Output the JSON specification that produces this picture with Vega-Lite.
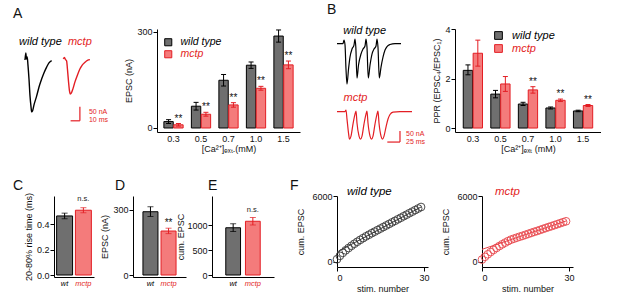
{
"$schema": "https://vega.github.io/schema/vega-lite/v6.json",
"background": "white",
"padding": {"left": 13, "top": 3, "right": 0, "bottom": 0},
"bounds": "flush",
"spacing": 167,
"resolve": {"scale": {"color": "independent", "fill": "independent", "stroke": "independent"}, "legend": {"color": "independent", "fill": "independent", "stroke": "independent"}},
"config": {
  "font": "Liberation Sans",
  "view": {"stroke": null},
  "axis": {"labelFont": "Liberation Sans", "titleFont": "Liberation Sans", "labelFontSize": 9, "titleFontSize": 9, "titleFontWeight": "normal", "domainColor": "#000", "tickColor": "#000", "labelColor": "#111", "titleColor": "#111", "tickSize": 4, "grid": false, "labelPadding": 1, "titlePadding": 3, "labelOverlap": {"expr": "false"}},
  "title": {"fontSize": 14, "fontWeight": "normal", "anchor": "start", "frame": "group", "color": "#111", "font": "Liberation Sans"},
  "legend": {"labelFont": "Liberation Sans"}
},
"vconcat": [
{"hconcat": [
{
 "width": 144, "height": 103,
 "title": {"text": "A", "offset": 8},
 "layer": [
  {"data": {"values": [
   {"trace":"wild type","t":12.9,"I":-3.6},{"trace":"wild type","t":13.8,"I":21},{"trace":"wild type","t":14.5,"I":0},{"trace":"wild type","t":15.3,"I":7},{"trace":"wild type","t":16.1,"I":-21},{"trace":"wild type","t":17.2,"I":-71},{"trace":"wild type","t":18.3,"I":-132},{"trace":"wild type","t":19.4,"I":-171},{"trace":"wild type","t":20.1,"I":-189},{"trace":"wild type","t":21.0,"I":-186},{"trace":"wild type","t":22.6,"I":-164},{"trace":"wild type","t":25.5,"I":-132},{"trace":"wild type","t":28.0,"I":-100},{"trace":"wild type","t":30.9,"I":-71},{"trace":"wild type","t":33.3,"I":-50},{"trace":"wild type","t":36.2,"I":-29},{"trace":"wild type","t":38.7,"I":-14},{"trace":"wild type","t":41.6,"I":-6},
   {"trace":"mctp","t":54.1,"I":0},{"trace":"mctp","t":55.4,"I":5},{"trace":"mctp","t":56.5,"I":-2},{"trace":"mctp","t":57.7,"I":-7},{"trace":"mctp","t":58.6,"I":-36},{"trace":"mctp","t":59.7,"I":-79},{"trace":"mctp","t":60.8,"I":-114},{"trace":"mctp","t":61.6,"I":-125},{"trace":"mctp","t":62.9,"I":-121},{"trace":"mctp","t":64.5,"I":-107},{"trace":"mctp","t":66.7,"I":-82},{"trace":"mctp","t":69.4,"I":-57},{"trace":"mctp","t":72.0,"I":-36},{"trace":"mctp","t":74.7,"I":-21},{"trace":"mctp","t":77.4,"I":-12},{"trace":"mctp","t":80.1,"I":-5},{"trace":"mctp","t":82.8,"I":-2.5}
  ]},
   "mark": {"type": "line", "strokeWidth": 1.4, "interpolate": "monotone"},
   "encoding": {
    "x": {"field": "t", "type": "quantitative", "scale": {"domain": [0, 155], "nice": false, "zero": false}, "axis": null},
    "y": {"field": "I", "type": "quantitative", "scale": {"domain": [-261, 107], "nice": false, "zero": false}, "axis": null},
    "color": {"field": "trace", "type": "nominal", "scale": {"domain": ["wild type", "mctp"], "range": ["#000000", "#e31e24"]}, "legend": null}
   }},
  {"data": {"values": [{"t": 6.5, "I": 50, "trace": "wild type", "label": "wild type"}, {"t": 59.1, "I": 50, "trace": "mctp", "label": "mctp"}]},
   "mark": {"type": "text", "align": "left", "baseline": "alphabetic", "fontSize": 11, "fontStyle": "italic"},
   "encoding": {"x": {"field": "t", "type": "quantitative"}, "y": {"field": "I", "type": "quantitative"}, "text": {"field": "label"}, "color": {"field": "trace", "type": "nominal", "legend": null}}},
  {"data": {"values": [{"t1": 72, "t2": 72, "I1": -221, "I2": -171}, {"t1": 62, "t2": 72, "I1": -221, "I2": -221}]},
   "mark": {"type": "rule", "color": "#e31e24", "strokeWidth": 1.2},
   "encoding": {"x": {"field": "t1", "type": "quantitative"}, "x2": {"field": "t2"}, "y": {"field": "I1", "type": "quantitative"}, "y2": {"field": "I2"}}},
  {"data": {"values": [{"t": 81.7, "I": -198.2, "label": "50 nA"}, {"t": 81.7, "I": -226.8, "label": "10 ms"}]},
   "mark": {"type": "text", "align": "left", "baseline": "alphabetic", "fontSize": 7, "color": "#e31e24"},
   "encoding": {"x": {"field": "t", "type": "quantitative"}, "y": {"field": "I", "type": "quantitative"}, "text": {"field": "label"}}}
 ]
},
{
 "width": 143, "height": 103,
 "data": {"values": [
  {"conc":"0.3","group":"wild type","mean":20,"lo":14,"hi":26,"sig":""},
  {"conc":"0.3","group":"mctp","mean":10,"lo":6,"hi":14,"sig":"**"},
  {"conc":"0.5","group":"wild type","mean":68,"lo":56,"hi":80,"sig":""},
  {"conc":"0.5","group":"mctp","mean":43,"lo":37,"hi":49,"sig":"**"},
  {"conc":"0.7","group":"wild type","mean":149,"lo":131,"hi":167,"sig":""},
  {"conc":"0.7","group":"mctp","mean":72,"lo":65,"hi":79,"sig":"**"},
  {"conc":"1.0","group":"wild type","mean":196,"lo":186,"hi":206,"sig":""},
  {"conc":"1.0","group":"mctp","mean":124,"lo":118,"hi":130,"sig":"**"},
  {"conc":"1.5","group":"wild type","mean":287,"lo":268,"hi":306,"sig":""},
  {"conc":"1.5","group":"mctp","mean":197,"lo":185,"hi":209,"sig":"**"}
 ]},
 "encoding": {
  "x": {"field": "conc", "type": "nominal", "scale": {"paddingInner": 0.3, "paddingOuter": 0.25}, "axis": {"title": "[Ca²⁺]ₑₓₜ.(mM)", "labelAngle": 0, "ticks": false, "labelPadding": 2, "titlePadding": 1}},
  "xOffset": {"field": "group", "type": "nominal", "sort": ["wild type", "mctp"], "scale": {"paddingInner": 0.05}},
  "stroke": {"field": "group", "type": "nominal", "scale": {"domain": ["wild type", "mctp"], "range": ["#000000", "#e31e24"]},
    "legend": {"title": null, "orient": "none", "legendX": 6, "legendY": 8, "padding": 0, "labelFontStyle": "italic", "labelFontSize": 10.5, "symbolType": "square", "symbolSize": 50, "symbolStrokeWidth": 1, "rowPadding": 0, "labelOffset": 7,
     "encode": {"labels": {"update": {"fill": {"signal": "datum.value === 'mctp' ? '#e31e24' : '#000000'"}}}}}}
 },
 "layer": [
  {"mark": {"type": "bar", "strokeWidth": 1},
   "encoding": {
    "y": {"field": "mean", "type": "quantitative", "scale": {"domain": [-12.5, 309], "nice": false}, "axis": {"title": "EPSC (nA)", "values": [0, 100, 200, 300], "labelOverlap": {"expr": "false"}}},
    "fill": {"field": "group", "type": "nominal", "scale": {"domain": ["wild type", "mctp"], "range": ["#6f6f6f", "#f47b7b"]},
      "legend": {"title": null, "orient": "none", "legendX": 6, "legendY": 8, "padding": 0, "labelFontStyle": "italic", "labelFontSize": 10.5, "symbolType": "square", "symbolSize": 50, "symbolStrokeWidth": 1, "rowPadding": 0, "labelOffset": 7,
       "encode": {"labels": {"update": {"fill": {"signal": "datum.value === 'mctp' ? '#e31e24' : '#000000'"}}}}}}
   }},
  {"mark": {"type": "rule", "strokeWidth": 1},
   "encoding": {"y": {"field": "lo", "type": "quantitative"}, "y2": {"field": "hi"}}},
  {"mark": {"type": "point", "shape": "M-1,0L1,0", "filled": false, "size": 25, "strokeWidth": 1, "opacity": 1},
   "encoding": {"y": {"field": "hi", "type": "quantitative"}}},
  {"mark": {"type": "point", "shape": "M-1,0L1,0", "filled": false, "size": 25, "strokeWidth": 1, "opacity": 1},
   "encoding": {"y": {"field": "lo", "type": "quantitative"}}},
  {"mark": {"type": "text", "baseline": "alphabetic", "dy": -2, "fontSize": 10, "fill": "#111"},
   "encoding": {"y": {"field": "hi", "type": "quantitative"}, "text": {"field": "sig"}, "stroke": {"value": "transparent"}}}
 ]
},
{
 "width": 155, "height": 103,
 "title": {"text": "B", "offset": 8, "dx": 27},
 "layer": [
  {"data": {"values": [
   {"trace":"wild type","t":73.0,"I":0},{"trace":"wild type","t":84.8,"I":0},{"trace":"wild type","t":86.8,"I":15.9},{"trace":"wild type","t":88.8,"I":-6.8},{"trace":"wild type","t":90.7,"I":-115.9},{"trace":"wild type","t":92.7,"I":-184.1},{"trace":"wild type","t":95.7,"I":-115.9},{"trace":"wild type","t":98.6,"I":-61.4},{"trace":"wild type","t":102.6,"I":-25},{"trace":"wild type","t":106.5,"I":-6.8},{"trace":"wild type","t":108.5,"I":20.5},{"trace":"wild type","t":110.1,"I":-15.9},{"trace":"wild type","t":112.4,"I":-156.8},{"trace":"wild type","t":115.4,"I":-97.7},{"trace":"wild type","t":120.3,"I":-47.7},{"trace":"wild type","t":124.3,"I":-25},{"trace":"wild type","t":128.2,"I":-11.4},{"trace":"wild type","t":130.2,"I":20.5},{"trace":"wild type","t":132.1,"I":-15.9},{"trace":"wild type","t":134.7,"I":-156.8},{"trace":"wild type","t":138.1,"I":-97.7},{"trace":"wild type","t":142.0,"I":-47.7},{"trace":"wild type","t":146.0,"I":-25},{"trace":"wild type","t":149.9,"I":-11.4},{"trace":"wild type","t":151.9,"I":20.5},{"trace":"wild type","t":153.8,"I":-15.9},{"trace":"wild type","t":156.4,"I":-156.8},{"trace":"wild type","t":159.8,"I":-106.8},{"trace":"wild type","t":163.7,"I":-61.4},{"trace":"wild type","t":167.7,"I":-29.5},{"trace":"wild type","t":171.6,"I":-13.6},{"trace":"wild type","t":177.5,"I":-4.5},{"trace":"wild type","t":187.4,"I":0},{"trace":"wild type","t":199.2,"I":0},
   {"trace":"mctp","t":73.0,"I":-309.1},{"trace":"mctp","t":88.8,"I":-309.1},{"trace":"mctp","t":90.7,"I":-302.3},{"trace":"mctp","t":92.7,"I":-343.2},{"trace":"mctp","t":95.7,"I":-406.8},{"trace":"mctp","t":97.6,"I":-434.1},{"trace":"mctp","t":100.6,"I":-420.5},{"trace":"mctp","t":104.5,"I":-365.9},{"trace":"mctp","t":108.5,"I":-320.5},{"trace":"mctp","t":110.5,"I":-306.8},{"trace":"mctp","t":112.4,"I":-361.4},{"trace":"mctp","t":116.4,"I":-420.5},{"trace":"mctp","t":119.3,"I":-434.1},{"trace":"mctp","t":122.3,"I":-420.5},{"trace":"mctp","t":126.2,"I":-365.9},{"trace":"mctp","t":130.2,"I":-320.5},{"trace":"mctp","t":132.1,"I":-306.8},{"trace":"mctp","t":134.1,"I":-361.4},{"trace":"mctp","t":138.1,"I":-420.5},{"trace":"mctp","t":141.0,"I":-434.1},{"trace":"mctp","t":144.0,"I":-420.5},{"trace":"mctp","t":147.9,"I":-365.9},{"trace":"mctp","t":151.9,"I":-320.5},{"trace":"mctp","t":153.8,"I":-306.8},{"trace":"mctp","t":155.8,"I":-361.4},{"trace":"mctp","t":159.8,"I":-420.5},{"trace":"mctp","t":162.7,"I":-434.1},{"trace":"mctp","t":165.7,"I":-420.5},{"trace":"mctp","t":169.6,"I":-379.5},{"trace":"mctp","t":173.6,"I":-343.2},{"trace":"mctp","t":177.5,"I":-322.7},{"trace":"mctp","t":183.4,"I":-311.4},{"trace":"mctp","t":197.2,"I":-309.1},{"trace":"mctp","t":220.9,"I":-309.1}
  ]},
   "mark": {"type": "line", "strokeWidth": 1.2, "interpolate": "monotone"},
   "encoding": {
    "x": {"field": "t", "type": "quantitative", "scale": {"domain": [0, 305.7], "nice": false, "zero": false}, "axis": null},
    "y": {"field": "I", "type": "quantitative", "scale": {"domain": [-402, 66], "nice": false, "zero": false}, "axis": null},
    "color": {"field": "trace", "type": "nominal", "scale": {"domain": ["wild type", "mctp"], "range": ["#000000", "#e31e24"]}, "legend": null}
   }},
  {"data": {"values": [{"t": 85.4, "I": 43, "trace": "wild type", "label": "wild type"}, {"t": 85.8, "I": -261.4, "trace": "mctp", "label": "mctp"}]},
   "mark": {"type": "text", "align": "left", "baseline": "alphabetic", "fontSize": 11, "fontStyle": "italic"},
   "encoding": {"x": {"field": "t", "type": "quantitative"}, "y": {"field": "I", "type": "quantitative"}, "text": {"field": "label"}, "color": {"field": "trace", "type": "nominal", "legend": null}}},
  {"data": {"values": [{"t1": 197.2, "t2": 197.2, "I1": -447.7, "I2": -397.7}, {"t1": 172.2, "t2": 197.2, "I1": -447.7, "I2": -447.7}]},
   "mark": {"type": "rule", "color": "#e31e24", "strokeWidth": 1.2},
   "encoding": {"x": {"field": "t1", "type": "quantitative"}, "x2": {"field": "t2"}, "y": {"field": "I1", "type": "quantitative"}, "y2": {"field": "I2"}}},
  {"data": {"values": [{"t": 209.1, "I": -418.2, "label": "50 nA"}, {"t": 209.1, "I": -454.5, "label": "25 ms"}]},
   "mark": {"type": "text", "align": "left", "baseline": "alphabetic", "fontSize": 7, "color": "#e31e24"},
   "encoding": {"x": {"field": "t", "type": "quantitative"}, "y": {"field": "I", "type": "quantitative"}, "text": {"field": "label"}}}
 ]
},
{
 "width": 146, "height": 103,
 "data": {"values": [
  {"conc":"0.3","group":"wild type","mean":2.33,"lo":2.15,"hi":2.55,"sig":""},
  {"conc":"0.3","group":"mctp","mean":3.02,"lo":2.50,"hi":3.55,"sig":""},
  {"conc":"0.5","group":"wild type","mean":1.37,"lo":1.22,"hi":1.52,"sig":""},
  {"conc":"0.5","group":"mctp","mean":1.78,"lo":1.48,"hi":2.08,"sig":""},
  {"conc":"0.7","group":"wild type","mean":0.97,"lo":0.91,"hi":1.04,"sig":""},
  {"conc":"0.7","group":"mctp","mean":1.54,"lo":1.41,"hi":1.67,"sig":"**"},
  {"conc":"1.0","group":"wild type","mean":0.81,"lo":0.77,"hi":0.85,"sig":""},
  {"conc":"1.0","group":"mctp","mean":1.12,"lo":1.07,"hi":1.17,"sig":"**"},
  {"conc":"1.5","group":"wild type","mean":0.69,"lo":0.66,"hi":0.72,"sig":""},
  {"conc":"1.5","group":"mctp","mean":0.91,"lo":0.87,"hi":0.95,"sig":"**"}
 ]},
 "encoding": {
  "x": {"field": "conc", "type": "nominal", "scale": {"paddingInner": 0.3, "paddingOuter": 0.3}, "axis": {"title": "[Ca²⁺]ₑₓₜ (mM)", "labelAngle": 0, "ticks": false, "labelPadding": 2, "titlePadding": 1}},
  "xOffset": {"field": "group", "type": "nominal", "sort": ["wild type", "mctp"], "scale": {"paddingInner": 0.05}},
  "stroke": {"field": "group", "type": "nominal", "scale": {"domain": ["wild type", "mctp"], "range": ["#000000", "#e31e24"]},
    "legend": {"title": null, "orient": "none", "legendX": 38, "legendY": 1, "padding": 0, "labelFontStyle": "italic", "labelFontSize": 11, "symbolType": "square", "symbolSize": 60, "symbolStrokeWidth": 1, "rowPadding": 0, "labelOffset": 8,
     "encode": {"labels": {"update": {"fill": {"signal": "datum.value === 'mctp' ? '#e31e24' : '#000000'"}}}}}}
 },
 "layer": [
  {"mark": {"type": "bar", "strokeWidth": 1},
   "encoding": {
    "y": {"field": "mean", "type": "quantitative", "scale": {"domain": [-0.16, 4], "nice": false}, "axis": {"title": "PPR (EPSC₄/EPSC₁)", "values": [0, 1, 2, 3, 4], "labelOverlap": {"expr": "false"}}},
    "fill": {"field": "group", "type": "nominal", "scale": {"domain": ["wild type", "mctp"], "range": ["#6f6f6f", "#f47b7b"]},
      "legend": {"title": null, "orient": "none", "legendX": 38, "legendY": 1, "padding": 0, "labelFontStyle": "italic", "labelFontSize": 11, "symbolType": "square", "symbolSize": 60, "symbolStrokeWidth": 1, "rowPadding": 0, "labelOffset": 8,
       "encode": {"labels": {"update": {"fill": {"signal": "datum.value === 'mctp' ? '#e31e24' : '#000000'"}}}}}}
   }},
  {"mark": {"type": "rule", "strokeWidth": 1},
   "encoding": {"y": {"field": "lo", "type": "quantitative"}, "y2": {"field": "hi"}}},
  {"mark": {"type": "point", "shape": "M-1,0L1,0", "filled": false, "size": 25, "strokeWidth": 1, "opacity": 1},
   "encoding": {"y": {"field": "hi", "type": "quantitative"}}},
  {"mark": {"type": "point", "shape": "M-1,0L1,0", "filled": false, "size": 25, "strokeWidth": 1, "opacity": 1},
   "encoding": {"y": {"field": "lo", "type": "quantitative"}}},
  {"mark": {"type": "text", "baseline": "alphabetic", "dy": -2, "fontSize": 10, "fill": "#111"},
   "encoding": {"y": {"field": "hi", "type": "quantitative"}, "text": {"field": "sig"}, "stroke": {"value": "transparent"}}}
 ]
}
], "spacing": 0, "bounds": "flush",
 "resolve": {"scale": {"color": "independent", "fill": "independent", "stroke": "independent"}, "legend": {"color": "independent", "fill": "independent", "stroke": "independent"}}},
{"hconcat": [
{"width": 41, "height": 1, "title": {"text": "C", "offset": 3}, "data": {"values": []}, "mark": "point"},
{
 "width": 40, "height": 81,
 "data": {"values": [{"group":"wt","mean":0.465,"lo":0.443,"hi":0.487,"sig":""},{"group":"mctp","mean":0.51,"lo":0.49,"hi":0.53,"sig":"n.s."}]},
 "encoding": {"x": {"field": "group", "type": "nominal", "sort": ["wt", "mctp"], "scale": {"paddingInner": 0.15, "paddingOuter": 0.14},
   "axis": {"title": null, "labelAngle": 0, "ticks": false, "labelFontSize": 7.5, "labelFontStyle": "italic", "labelPadding": 2, "labelColor": {"condition": {"test": "datum.value === 'mctp'", "value": "#e31e24"}, "value": "#000000"}}}},
 "layer": [
  {"mark": {"type": "bar", "strokeWidth": 1},
   "encoding": {"y": {"field": "mean", "type": "quantitative", "scale": {"domain": [-0.0157, 0.622], "nice": false}, "axis": {"title": "20-80% rise time (ms)", "values": [0, 0.1, 0.2, 0.3, 0.4, 0.5], "format": ".1f", "labelOverlap": {"expr": "false"}}},
    "fill": {"field": "group", "type": "nominal", "scale": {"domain": ["wt", "mctp"], "range": ["#6f6f6f", "#f47b7b"]}, "legend": null},
    "stroke": {"field": "group", "type": "nominal", "scale": {"domain": ["wt", "mctp"], "range": ["#000000", "#e31e24"]}, "legend": null}}},
  {"mark": {"type": "rule", "strokeWidth": 1}, "encoding": {"y": {"field": "lo", "type": "quantitative"}, "y2": {"field": "hi"}, "stroke": {"field": "group", "type": "nominal", "legend": null}}},
  {"mark": {"type": "tick", "orient": "horizontal", "size": 6, "thickness": 1}, "encoding": {"y": {"field": "hi", "type": "quantitative"}, "color": {"field": "group", "type": "nominal", "scale": {"domain": ["wt", "mctp"], "range": ["#000000", "#e31e24"]}, "legend": null}}},
  {"mark": {"type": "tick", "orient": "horizontal", "size": 6, "thickness": 1}, "encoding": {"y": {"field": "lo", "type": "quantitative"}, "color": {"field": "group", "type": "nominal", "legend": null}}},
  {"mark": {"type": "text", "baseline": "alphabetic", "dy": -7, "fontSize": 7.5, "color": "#222"}, "encoding": {"y": {"field": "hi", "type": "quantitative"}, "text": {"field": "sig"}}}
 ]
},
{"width": 39, "height": 1, "title": {"text": "D", "offset": 3, "dx": 21}, "data": {"values": []}, "mark": "point"},
{
 "width": 53, "height": 81,
 "data": {"values": [{"group":"wt","mean":292,"lo":270,"hi":315,"sig":""},{"group":"mctp","mean":203,"lo":191,"hi":216,"sig":"**"}]},
 "encoding": {"x": {"field": "group", "type": "nominal", "sort": ["wt", "mctp"], "scale": {"paddingInner": 0.17, "paddingOuter": 0.55},
   "axis": {"title": null, "labelAngle": 0, "ticks": false, "labelFontSize": 7.5, "labelFontStyle": "italic", "labelPadding": 2, "labelColor": {"condition": {"test": "datum.value === 'mctp'", "value": "#e31e24"}, "value": "#000000"}}}},
 "layer": [
  {"mark": {"type": "bar", "strokeWidth": 1},
   "encoding": {"y": {"field": "mean", "type": "quantitative", "scale": {"domain": [-9.2, 364.6], "nice": false}, "axis": {"title": "EPSC (nA)", "values": [0, 50, 100, 150, 200, 250, 300], "labelOverlap": {"expr": "false"}, "labelExpr": "datum.value % 100 === 0 ? datum.label : ''", "tickSize": {"condition": {"test": "datum.value % 100 !== 0", "value": 2}, "value": 4}}},
    "fill": {"field": "group", "type": "nominal", "scale": {"domain": ["wt", "mctp"], "range": ["#6f6f6f", "#f47b7b"]}, "legend": null},
    "stroke": {"field": "group", "type": "nominal", "scale": {"domain": ["wt", "mctp"], "range": ["#000000", "#e31e24"]}, "legend": null}}},
  {"mark": {"type": "rule", "strokeWidth": 1}, "encoding": {"y": {"field": "lo", "type": "quantitative"}, "y2": {"field": "hi"}, "stroke": {"field": "group", "type": "nominal", "legend": null}}},
  {"mark": {"type": "tick", "orient": "horizontal", "size": 6, "thickness": 1}, "encoding": {"y": {"field": "hi", "type": "quantitative"}, "color": {"field": "group", "type": "nominal", "scale": {"domain": ["wt", "mctp"], "range": ["#000000", "#e31e24"]}, "legend": null}}},
  {"mark": {"type": "tick", "orient": "horizontal", "size": 6, "thickness": 1}, "encoding": {"y": {"field": "lo", "type": "quantitative"}, "color": {"field": "group", "type": "nominal", "legend": null}}},
  {"mark": {"type": "text", "baseline": "alphabetic", "dy": -2, "fontSize": 10, "color": "#111"}, "encoding": {"y": {"field": "hi", "type": "quantitative"}, "text": {"field": "sig"}}}
 ]
},
{"width": 26, "height": 1, "title": {"text": "E", "offset": 3, "dx": 22}, "data": {"values": []}, "mark": "point"},
{
 "width": 62, "height": 81,
 "data": {"values": [{"group":"wt","mean":945,"lo":870,"hi":1025,"sig":""},{"group":"mctp","mean":1075,"lo":1000,"hi":1150,"sig":"n.s."}]},
 "encoding": {"x": {"field": "group", "type": "nominal", "sort": ["wt", "mctp"], "scale": {"paddingInner": 0.25, "paddingOuter": 0.7},
   "axis": {"title": null, "labelAngle": 0, "ticks": false, "labelFontSize": 7.5, "labelFontStyle": "italic", "labelPadding": 2, "labelColor": {"condition": {"test": "datum.value === 'mctp'", "value": "#e31e24"}, "value": "#000000"}}}},
 "layer": [
  {"mark": {"type": "bar", "strokeWidth": 1},
   "encoding": {"y": {"field": "mean", "type": "quantitative", "scale": {"domain": [-40, 1580], "nice": false}, "axis": {"title": "cum. EPSC", "values": [0, 500, 1000], "format": "d", "titlePadding": 1, "labelOverlap": {"expr": "false"}}},
    "fill": {"field": "group", "type": "nominal", "scale": {"domain": ["wt", "mctp"], "range": ["#6f6f6f", "#f47b7b"]}, "legend": null},
    "stroke": {"field": "group", "type": "nominal", "scale": {"domain": ["wt", "mctp"], "range": ["#000000", "#e31e24"]}, "legend": null}}},
  {"mark": {"type": "rule", "strokeWidth": 1}, "encoding": {"y": {"field": "lo", "type": "quantitative"}, "y2": {"field": "hi"}, "stroke": {"field": "group", "type": "nominal", "legend": null}}},
  {"mark": {"type": "tick", "orient": "horizontal", "size": 6, "thickness": 1}, "encoding": {"y": {"field": "hi", "type": "quantitative"}, "color": {"field": "group", "type": "nominal", "scale": {"domain": ["wt", "mctp"], "range": ["#000000", "#e31e24"]}, "legend": null}}},
  {"mark": {"type": "tick", "orient": "horizontal", "size": 6, "thickness": 1}, "encoding": {"y": {"field": "lo", "type": "quantitative"}, "color": {"field": "group", "type": "nominal", "legend": null}}},
  {"mark": {"type": "text", "baseline": "alphabetic", "dy": -6, "fontSize": 7.5, "color": "#222"}, "encoding": {"y": {"field": "hi", "type": "quantitative"}, "text": {"field": "sig"}}}
 ]
},
{"width": 63, "height": 1, "title": {"text": "F", "offset": 3, "dx": 16}, "data": {"values": []}, "mark": "point"},
{
 "width": 91, "height": 71,
 "title": {"text": "wild type", "fontSize": 11.5, "fontStyle": "italic", "color": "#000", "dx": 10, "offset": -5},
 "layer": [
  {"data": {"values": [
   {"stim":0,"cum":250},{"stim":1,"cum":560},{"stim":2,"cum":830},{"stim":3,"cum":1060},{"stim":4,"cum":1270},{"stim":5,"cum":1470},{"stim":6,"cum":1660},{"stim":7,"cum":1840},{"stim":8,"cum":2010},{"stim":9,"cum":2170},{"stim":10,"cum":2330},{"stim":11,"cum":2475},{"stim":12,"cum":2620},{"stim":13,"cum":2760},{"stim":14,"cum":2900},{"stim":15,"cum":3040},{"stim":16,"cum":3180},{"stim":17,"cum":3320},{"stim":18,"cum":3460},{"stim":19,"cum":3600},{"stim":20,"cum":3740},{"stim":21,"cum":3880},{"stim":22,"cum":4020},{"stim":23,"cum":4160},{"stim":24,"cum":4300},{"stim":25,"cum":4440},{"stim":26,"cum":4580},{"stim":27,"cum":4720},{"stim":28,"cum":4860},{"stim":29,"cum":5000}
  ]},
   "mark": {"type": "point", "shape": "circle", "filled": false, "size": 60, "strokeWidth": 0.9, "color": "#3a3a3a", "opacity": 1},
   "encoding": {
    "x": {"field": "stim", "type": "quantitative", "scale": {"domain": [0, 31.4], "nice": false}, "axis": {"title": "stim. number", "values": [0, 5, 10, 15, 20, 25, 30], "labelOverlap": {"expr": "false"}, "labelExpr": "datum.value % 10 === 0 ? datum.label : ''", "tickSize": {"condition": {"test": "datum.value % 10 !== 0", "value": 2}, "value": 4}, "labelPadding": 2, "titlePadding": 2}},
    "y": {"field": "cum", "type": "quantitative", "scale": {"domain": [-455, 6000], "nice": false}, "axis": {"title": "cum. EPSC", "values": [0, 1000, 2000, 3000, 4000, 5000, 6000], "labelOverlap": {"expr": "false"}, "format": "d", "labelExpr": "datum.value % 2000 === 0 ? datum.label : ''", "tickSize": {"condition": {"test": "datum.value % 2000 !== 0", "value": 2}, "value": 4}, "titlePadding": 6}}
   }},
  {"data": {"values": [{"stim": 0, "fit": 900}, {"stim": 29, "fit": 5000}]},
   "mark": {"type": "line", "color": "#3a3a3a", "strokeWidth": 1},
   "encoding": {"x": {"field": "stim", "type": "quantitative"}, "y": {"field": "fit", "type": "quantitative"}}}
 ]
},
{"width": 54, "height": 1, "data": {"values": []}, "mark": "point"},
{
 "width": 91, "height": 71,
 "title": {"text": "mctp", "fontSize": 11.5, "fontStyle": "italic", "color": "#e31e24", "dx": 13, "offset": -5},
 "layer": [
  {"data": {"values": [
   {"stim":0,"cum":220},{"stim":1,"cum":470},{"stim":2,"cum":700},{"stim":3,"cum":910},{"stim":4,"cum":1100},{"stim":5,"cum":1280},{"stim":6,"cum":1450},{"stim":7,"cum":1610},{"stim":8,"cum":1760},{"stim":9,"cum":1900},{"stim":10,"cum":2030},{"stim":11,"cum":2120},{"stim":12,"cum":2210},{"stim":13,"cum":2300},{"stim":14,"cum":2380},{"stim":15,"cum":2470},{"stim":16,"cum":2560},{"stim":17,"cum":2650},{"stim":18,"cum":2740},{"stim":19,"cum":2820},{"stim":20,"cum":2910},{"stim":21,"cum":3000},{"stim":22,"cum":3090},{"stim":23,"cum":3180},{"stim":24,"cum":3260},{"stim":25,"cum":3350},{"stim":26,"cum":3440},{"stim":27,"cum":3530},{"stim":28,"cum":3620},{"stim":29,"cum":3700}
  ]},
   "mark": {"type": "point", "shape": "circle", "filled": false, "size": 60, "strokeWidth": 0.9, "color": "#e8464c", "opacity": 1},
   "encoding": {
    "x": {"field": "stim", "type": "quantitative", "scale": {"domain": [0, 31.4], "nice": false}, "axis": {"title": "stim. number", "values": [0, 5, 10, 15, 20, 25, 30], "labelOverlap": {"expr": "false"}, "labelExpr": "datum.value % 10 === 0 ? datum.label : ''", "tickSize": {"condition": {"test": "datum.value % 10 !== 0", "value": 2}, "value": 4}, "labelPadding": 2, "titlePadding": 2}},
    "y": {"field": "cum", "type": "quantitative", "scale": {"domain": [-455, 6000], "nice": false}, "axis": {"title": "cum. EPSC", "values": [0, 1000, 2000, 3000, 4000, 5000, 6000], "labelOverlap": {"expr": "false"}, "format": "d", "labelExpr": "datum.value % 2000 === 0 ? datum.label : ''", "tickSize": {"condition": {"test": "datum.value % 2000 !== 0", "value": 2}, "value": 4}, "titlePadding": 6}}
   }},
  {"data": {"values": [{"stim": 0, "fit": 1150}, {"stim": 29, "fit": 3730}]},
   "mark": {"type": "line", "color": "#e8464c", "strokeWidth": 1},
   "encoding": {"x": {"field": "stim", "type": "quantitative"}, "y": {"field": "fit", "type": "quantitative"}}}
 ]
}
], "spacing": 0, "bounds": "flush",
 "resolve": {"scale": {"color": "independent", "fill": "independent", "stroke": "independent"}, "legend": {"color": "independent", "fill": "independent", "stroke": "independent"}}}
]
}
